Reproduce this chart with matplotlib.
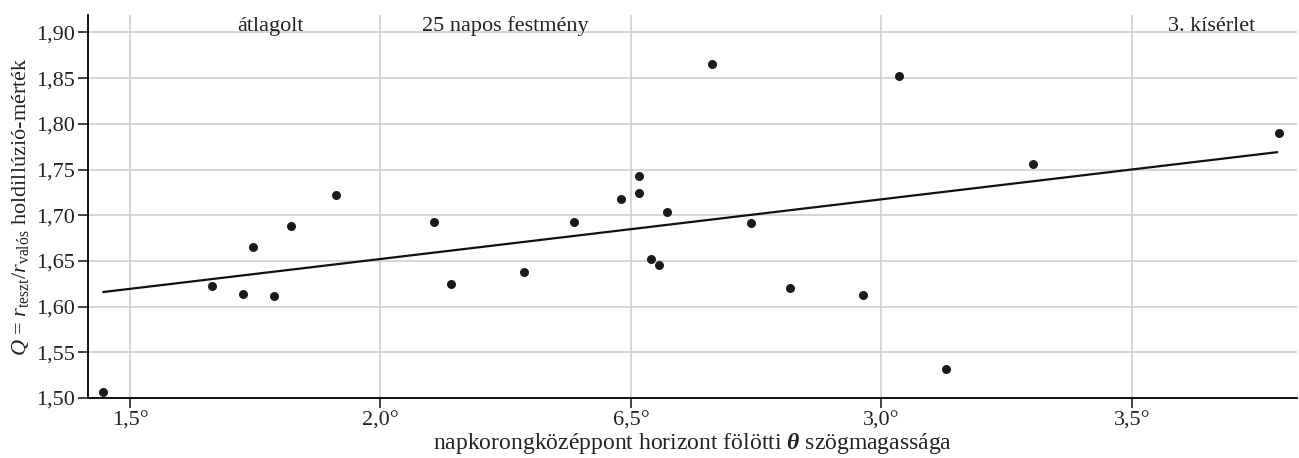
import matplotlib
matplotlib.use("Agg")
import matplotlib.pyplot as plt

# napkorong-középpont szögmagassága (fok) és a mért Q érték
elevation = [1.447, 1.664, 1.725, 1.745, 1.788, 1.822, 1.911, 2.106, 2.141,
             2.287, 2.387, 2.481, 2.516, 2.516, 2.540, 2.557, 2.573, 2.661,
             2.739, 2.818, 2.963, 3.036, 3.129, 3.303, 3.794]
q_ratio = [1.507, 1.623, 1.614, 1.665, 1.612, 1.688, 1.722, 1.693, 1.625,
           1.638, 1.693, 1.718, 1.743, 1.724, 1.652, 1.646, 1.703, 1.866,
           1.692, 1.620, 1.613, 1.852, 1.532, 1.756, 1.790]

# illesztett egyenes végpontjai
fit_x = [1.447, 3.79]
fit_y = [1.616, 1.769]

x_ticks = [1.5, 2.0, 2.5, 3.0, 3.5]
x_ticklabels = ["1,5°", "2,0°", "6,5°", "3,0°", "3,5°"]
y_ticks = [1.50, 1.55, 1.60, 1.65, 1.70, 1.75, 1.80, 1.85, 1.90]
y_ticklabels = ["1,50", "1,55", "1,60", "1,65", "1,70", "1,75", "1,80", "1,85", "1,90"]

labels = ["átlagolt", "25 napos festmény", "3. kísérlet"]
label_x = [1.78, 2.25, 3.66]

plt.rcParams["font.family"] = ["Liberation Serif", "DejaVu Serif"]
plt.rcParams["mathtext.fontset"] = "custom"
plt.rcParams["mathtext.rm"] = "Liberation Serif"
plt.rcParams["mathtext.it"] = "Liberation Serif:italic"
plt.rcParams["mathtext.bf"] = "Liberation Serif:bold"
plt.rcParams["mathtext.bfit"] = "Liberation Serif:bold:italic"

fig = plt.figure(figsize=(12.99, 4.58), dpi=100)
ax = fig.add_axes([0.0677, 0.131, 0.9308, 0.836])

ax.grid(True, color="#cfcfcf", linewidth=1.2)
ax.set_axisbelow(True)

ax.scatter(elevation, q_ratio, s=42, color="#1a1a1a", zorder=3, linewidths=0)
ax.plot(fit_x, fit_y, color="#111111", linewidth=1.6, zorder=2)

ax.set_xlim(1.416, 3.83)
ax.set_ylim(1.50, 1.919)
ax.set_xticks(x_ticks)
ax.set_xticklabels(x_ticklabels)
ax.set_yticks(y_ticks)
ax.set_yticklabels(y_ticklabels)
ax.tick_params(axis="both", direction="out", length=7, width=1.2,
               labelsize=16, color="#222222", labelcolor="#222222")
ax.tick_params(axis="x", pad=3)
ax.tick_params(axis="y", pad=2)

ax.spines["top"].set_visible(False)
ax.spines["right"].set_visible(False)
ax.spines["left"].set_linewidth(1.3)
ax.spines["bottom"].set_linewidth(1.3)

for name, xpos in zip(labels, label_x):
    ax.text(xpos, 1.907, name, ha="center", va="center", fontsize=16,
            color="#222222")

ax.set_xlabel(r"napkorongközéppont horizont fölötti $\boldsymbol{\theta}$ szögmagassága",
              fontsize=17, color="#222222", labelpad=0)
ax.set_ylabel(r"$Q$ = $r_{\mathrm{teszt}}/r_{\mathrm{valós}}$ holdillúzió-mérték",
              fontsize=16, color="#222222", labelpad=4)

fig.savefig("out.png", dpi=100)
